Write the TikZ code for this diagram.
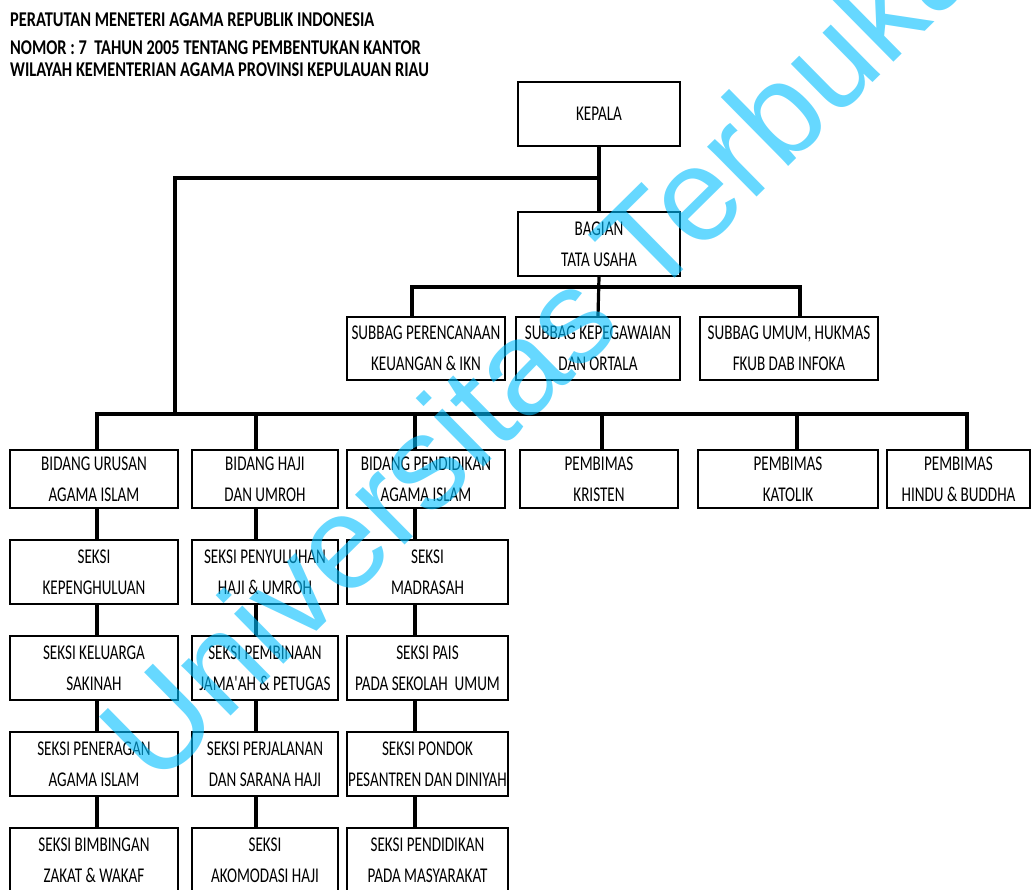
\documentclass[tikz,border=0pt]{standalone}
\usepackage{fontspec}
\newfontfamily\boxfont[FakeStretch=0.72]{Carlito}
\newfontfamily\titlefont[FakeStretch=0.78]{Carlito}
\newfontfamily\wmfont{Liberation Sans}
\definecolor{wmcol}{RGB}{0,190,255}
\begin{document}
\begin{tikzpicture}[x=1pt,y=-1pt,
  box/.style={draw, line width=2pt, align=center, inner sep=0pt,
    font=\boxfont\fontsize{21}{31}\selectfont},
  conn/.style={line width=3.2pt},
  ttl/.style={anchor=base west, inner sep=0pt, font=\titlefont\bfseries\fontsize{21}{21}\selectfont}]
\useasboundingbox (0,0) rectangle (1035,890);
\begin{scope}
\clip (0,0) rectangle (1035,890);
% title
\node[ttl] (t1) at (10,27) {PERATUTAN MENETERI AGAMA REPUBLIK INDONESIA};
\node[ttl] (t2) at (10,55) {NOMOR : 7\ \ TAHUN 2005 TENTANG PEMBENTUKAN KANTOR};
\node[ttl] (t3) at (10,77) {WILAYAH KEMENTERIAN AGAMA PROVINSI KEPULAUAN RIAU};
% top
\node[box, minimum width=162, minimum height=64] (kepala) at (599,114) {KEPALA};
\node[box, minimum width=162, minimum height=64] (bagian) at (599,244) {BAGIAN\\TATA USAHA};
\node[box, minimum width=158, minimum height=63] (s1) at (426,348.5) {SUBBAG PERENCANAAN\\KEUANGAN \& IKN};
\node[box, minimum width=164, minimum height=63] (s2) at (598,348.5) {SUBBAG KEPEGAWAIAN\\DAN ORTALA};
\node[box, minimum width=178, minimum height=63] (s3) at (789,348.5) {SUBBAG UMUM, HUKMAS\\FKUB DAB INFOKA};
% bidang
\node[box, minimum width=168, minimum height=58] (b1) at (94,479) {BIDANG URUSAN\\AGAMA ISLAM};
\node[box, minimum width=146, minimum height=58] (b2) at (265,479) {BIDANG HAJI\\DAN UMROH};
\node[box, minimum width=158, minimum height=58] (b3) at (426,479) {BIDANG PENDIDIKAN\\AGAMA ISLAM};
\node[box, minimum width=158, minimum height=58] (b4) at (599,479) {PEMBIMAS\\KRISTEN};
\node[box, minimum width=180, minimum height=58] (b5) at (788,479) {PEMBIMAS\\KATOLIK};
\node[box, minimum width=143, minimum height=58] (b6) at (958.5,479) {PEMBIMAS\\HINDU \& BUDDHA};
% column 1
\node[box, minimum width=168, minimum height=64] (r11) at (94,572) {SEKSI\\KEPENGHULUAN};
\node[box, minimum width=168, minimum height=64] (r12) at (94,668) {SEKSI KELUARGA\\SAKINAH};
\node[box, minimum width=168, minimum height=64] (r13) at (94,764) {SEKSI PENERAGAN\\AGAMA ISLAM};
\node[box, minimum width=168, minimum height=64] (r14) at (94,860) {SEKSI BIMBINGAN\\ZAKAT \& WAKAF};
% column 2
\node[box, minimum width=146, minimum height=64] (r21) at (265,572) {SEKSI PENYULUHAN\\HAJI \& UMROH};
\node[box, minimum width=146, minimum height=64] (r22) at (265,668) {SEKSI PEMBINAAN\\JAMA'AH \& PETUGAS};
\node[box, minimum width=146, minimum height=64] (r23) at (265,764) {SEKSI PERJALANAN\\DAN SARANA HAJI};
\node[box, minimum width=146, minimum height=64] (r24) at (265,860) {SEKSI\\AKOMODASI HAJI};
% column 3
\node[box, minimum width=161, minimum height=64] (r31) at (427.5,572) {SEKSI\\MADRASAH};
\node[box, minimum width=161, minimum height=64] (r32) at (427.5,668) {SEKSI PAIS\\PADA SEKOLAH\ \ UMUM};
\node[box, minimum width=161, minimum height=64] (r33) at (427.5,764) {SEKSI PONDOK\\PESANTREN DAN DINIYAH};
\node[box, minimum width=161, minimum height=64] (r34) at (427.5,860) {SEKSI PENDIDIKAN\\PADA MASYARAKAT};
% coordinates
\coordinate (hL) at (175,178);
\coordinate (busY) at (0,414);
\coordinate (sY) at (0,287);
\coordinate (sx1) at (412,0);
\coordinate (sx3) at (800,0);
\coordinate (x1) at (97,0);
\coordinate (x2) at (256,0);
\coordinate (x3) at (415,0);
\coordinate (x4) at (602,0);
\coordinate (x5) at (797,0);
\coordinate (x6) at (967,0);
% connectors
\draw[conn] (kepala.south) -- (bagian.north);
\draw[conn] (kepala.south |- hL) -- (hL) -- (hL |- busY);
\draw[conn] (bagian.south) -- (s2.north);
\draw[conn] (s1.north -| sx1) -- (sx1 |- sY) -- (sx3 |- sY) -- (s3.north -| sx3);
\draw[conn] (b1.north -| x1) -- (x1 |- busY) -- (x6 |- busY) -- (b6.north -| x6);
\draw[conn] (x2 |- busY) -- (b2.north -| x2);
\draw[conn] (x3 |- busY) -- (b3.north -| x3);
\draw[conn] (x4 |- busY) -- (b4.north -| x4);
\draw[conn] (x5 |- busY) -- (b5.north -| x5);
\foreach \c in {1,2,3} {
  \draw[conn] (b\c.south -| x\c) -- (r\c1.north -| x\c);
  \draw[conn] (r\c1.south -| x\c) -- (r\c2.north -| x\c);
  \draw[conn] (r\c2.south -| x\c) -- (r\c3.north -| x\c);
  \draw[conn] (r\c3.south -| x\c) -- (r\c4.north -| x\c);
}
% watermark
\node[anchor=base west, rotate=44.6, inner sep=0pt, text=wmcol, opacity=0.6,
  font=\wmfont\fontsize{133}{133}\selectfont] (wm) at (156,790) {Universitas Terbuka};
\end{scope}
\end{tikzpicture}
\end{document}
